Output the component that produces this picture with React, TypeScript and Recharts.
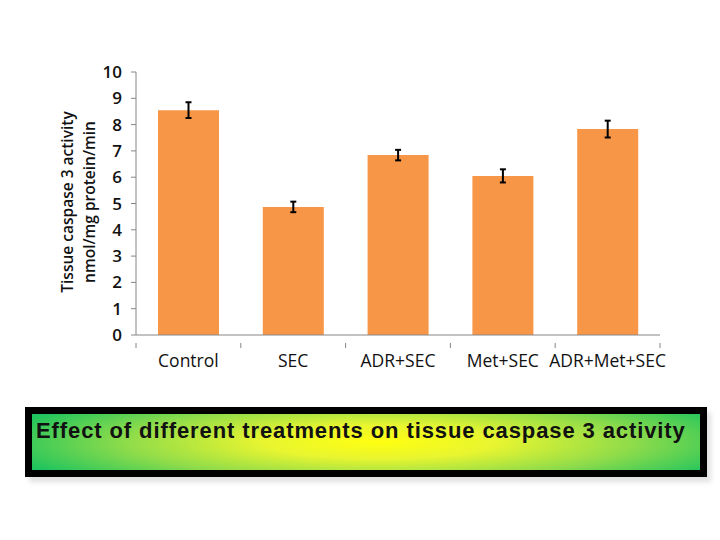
import React from 'react';
import { BarChart, Bar, XAxis, YAxis, ErrorBar } from 'recharts';

const groups = ['Control', 'SEC', 'ADR+SEC', 'Met+SEC', 'ADR+Met+SEC'];
const activity = [8.55, 4.87, 6.84, 6.05, 7.83];
const sem = [0.3, 0.2, 0.2, 0.25, 0.32];
const yTicks = [0, 1, 2, 3, 4, 5, 6, 7, 8, 9, 10];

const data = groups.map((g, i) => ({ group: g, value: activity[i], err: sem[i] }));

const FONT = '"Open Sans", "Liberation Sans", sans-serif';
const AXIS = '#868686';
const PLOT_LEFT = 136;
const PLOT_RIGHT = 660;
const band = (PLOT_RIGHT - PLOT_LEFT) / groups.length;

const GroupTick = (props: any) => {
  const { x, y, payload, index } = props;
  const half = band / 2;
  return (
    <g>
      <line x1={x - half} y1={y} x2={x - half} y2={y + 5} stroke={AXIS} />
      {index === groups.length - 1 && (
        <line x1={x + half} y1={y} x2={x + half} y2={y + 5} stroke={AXIS} />
      )}
      <text x={x} y={y + 24} textAnchor="middle" fontFamily={FONT} fontSize={17.5} fill="#111">
        {payload.value}
      </text>
    </g>
  );
};

const YTitle = () => (
  <g fontFamily={FONT} fontSize={15.5} fontWeight={600} fill="#111">
    <text x={73} y={202} textAnchor="middle" transform="rotate(-90 73 202)">
      Tissue caspase 3 activity
    </text>
    <text x={95} y={202} textAnchor="middle" transform="rotate(-90 95 202)">
      nmol/mg protein/min
    </text>
  </g>
);

export default function App() {
  return (
    <div style={{ position: 'absolute', left: 0, top: 0, width: 720, height: 540, background: '#fff' }}>
      <BarChart
        width={720}
        height={400}
        data={data}
        margin={{ top: 72, right: 60, left: 96, bottom: 35 }}
      >
        <XAxis
          dataKey="group"
          axisLine={{ stroke: AXIS }}
          tickLine={false}
          tick={<GroupTick />}
          height={30}
          interval={0}
        />
        <YAxis
          width={40}
          domain={[0, 10]}
          ticks={yTicks}
          interval={0}
          axisLine={{ stroke: AXIS }}
          tickLine={{ stroke: AXIS }}
          tickSize={5}
          tickMargin={9}
          tick={{ fontFamily: FONT, fontSize: 17, fontWeight: 600, fill: '#111' }}
          label={<YTitle />}
        />
        <Bar dataKey="value" fill="#F79646" barSize={61} isAnimationActive={false}>
          <ErrorBar dataKey="err" width={3} stroke="#000" strokeWidth={2} isAnimationActive={false} />
        </Bar>
      </BarChart>
      <div
        style={{
          position: 'absolute',
          left: 25,
          top: 407,
          width: 668,
          height: 56,
          border: '7px solid #000',
          background: 'radial-gradient(ellipse 58% 100% at 52% 50%, #ffff10 0%, #e8f530 30%, #90dc4a 65%, #1ec45e 100%)',
          boxShadow: '4px 5px 5px rgba(0,0,0,0.12)',
          boxSizing: 'content-box',
        }}
      >
        <div
          style={{
            position: 'absolute',
            left: 4,
            top: 4,
            fontFamily: '"Liberation Sans", Arial, sans-serif',
            fontWeight: 700,
            fontSize: 22,
            letterSpacing: '0.9px',
            color: '#111',
            lineHeight: '26px',
            whiteSpace: 'nowrap',
          }}
        >
          Effect of different treatments on tissue caspase 3 activity
        </div>
      </div>
    </div>
  );
}
